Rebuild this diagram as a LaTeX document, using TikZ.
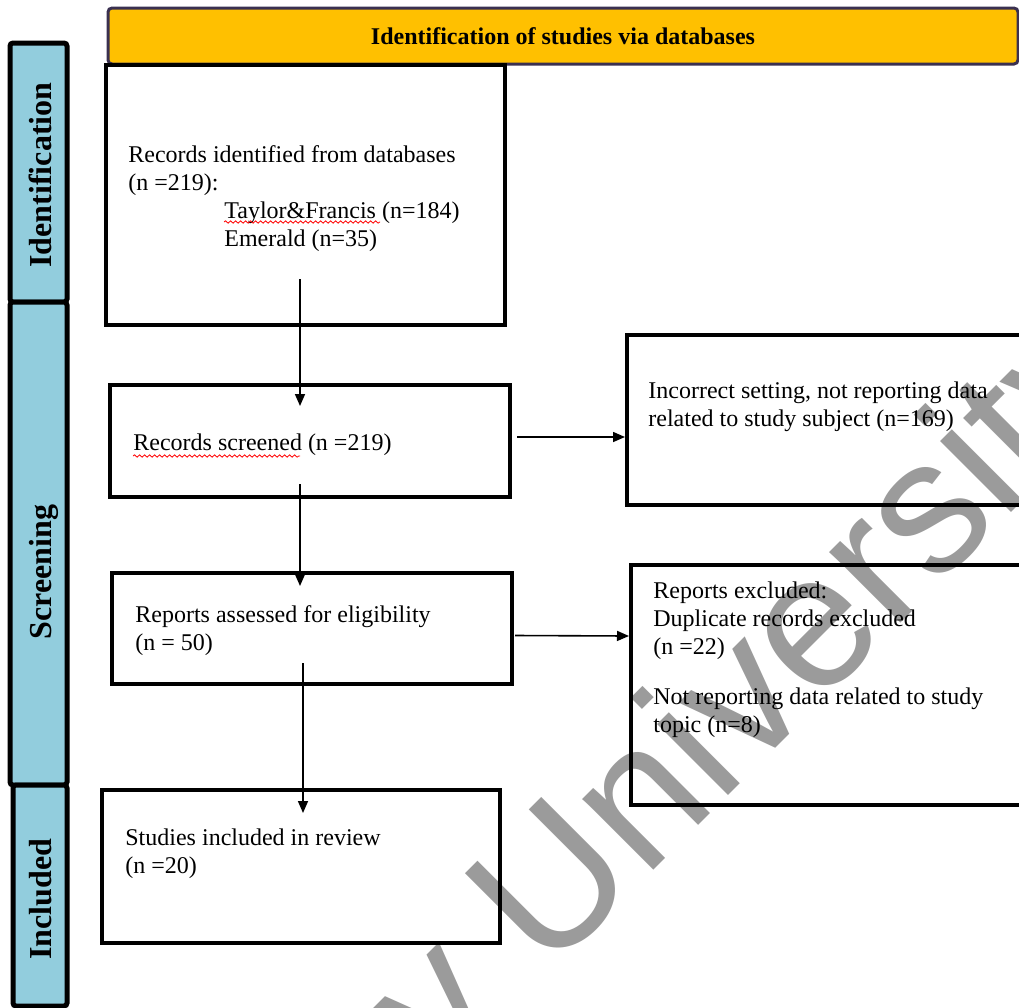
\documentclass[tikz,border=0pt]{standalone}
\usepackage{fontspec}
\setmainfont{Liberation Serif}
\newfontfamily\wmfont{Liberation Sans}
\usetikzlibrary{arrows.meta,fit,decorations.pathmorphing}
\definecolor{hdrorange}{RGB}{255,192,0}
\definecolor{hdrline}{RGB}{58,48,80}
\definecolor{stageblue}{RGB}{146,205,221}
\definecolor{wmgray}{RGB}{155,155,155}

\begin{document}
\begin{tikzpicture}[x=.5pt,y=-.5pt,
	box/.style={draw,line width=2pt,inner sep=0pt},
	stage/.style={draw,line width=2.5pt,fill=stageblue,rounded corners=1.5pt},
	stagetxt/.style={rotate=90,anchor=base,inner sep=0pt,font=\fontsize{16}{16}\selectfont\bfseries},
	txt/.style={anchor=north west,inner sep=0pt,align=left,font=\fontsize{12}{14}\selectfont},
	arr/.style={line width=.8pt,-{Triangle[length=6pt,width=5pt]}},
	spell/.style={red,line width=.4pt,decorate,decoration={snake,amplitude=.6pt,segment length=2.5pt}}]
\useasboundingbox (0,0) rectangle (1019,1008);

% watermark
\node[wmgray,rotate=45,anchor=base west,inner sep=0pt,font=\wmfont\fontsize{95}{95}\selectfont] (wm) at (443,1081) {y University};

% stages
\draw[stage] (10,43) rectangle (67,302);
\draw[stage] (10,302) rectangle (67,785);
\draw[stage] (13,785) rectangle (67,1006);
\node[stagetxt] (sid) at (52,175) {Identification};
\node[stagetxt] (sscr) at (52,572) {Screening};
\node[stagetxt] (sinc) at (52,899) {Included};

% header
\node[draw=hdrline,line width=1.5pt,fill=hdrorange,rounded corners=2pt,inner sep=0pt,
	fit={(108,8) (1018,64)}] (hdr) {};
\node[font=\fontsize{12}{14}\selectfont\bfseries,inner sep=0pt] (title) at (hdr.center) {Identification of studies via databases};

% boxes
\node[box,fit={(106,65) (505,325)}] (b1) {};
\node[box,fit={(110,385) (510,497)}] (b2) {};
\node[box,fit={(112,573) (512,684)}] (b3) {};
\node[box,fit={(102,790) (500,943)}] (b4) {};
\node[box,fit={(627,335) (1040,505)}] (bA) {};
\node[box,fit={(631,565) (1040,805)}] (bB) {};

\node[txt] (t1) at (128,145) {Records identified from databases\\(n =219):\\\hspace*{48pt}Taylor\&Francis (n=184)\\\hspace*{48pt}Emerald (n=35)};
\node[txt] (t2) at (133,433) {Records screened (n =219)};
\node[txt] (t3) at (135,605) {Reports assessed for eligibility\\(n = 50)};
\node[txt] (t4) at (125,828) {Studies included in review\\(n =20)};
\node[txt] (tA) at (648,381) {Incorrect setting, not reporting data\\related to study subject (n=169)};
\node[txt] (tB) at (653,581) {Reports excluded:\\Duplicate records excluded\\(n =22)\\[11pt]Not reporting data related to study\\topic (n=8)};

\draw[spell] (224,222) -- (380,222);
\draw[spell] (133,456) -- (300,456);

% arrows
\draw[arr] ([xshift=-2.75pt,yshift=24pt]b1.south) -- ([xshift=-5pt,yshift=-11.5pt]b2.north);
\draw[arr] ([xshift=-5pt,yshift=7.5pt]b2.south) -- ([xshift=-6pt,yshift=-7.5pt]b3.north);
\draw[arr] ([xshift=-4.5pt,yshift=11.5pt]b3.south) -- ([xshift=1pt,yshift=-12.5pt]b4.north);
\draw[arr] ([xshift=2.5pt,yshift=2pt]b2.east) -- ([yshift=-8.5pt]bA.west);
\draw[arr] ([xshift=.5pt,yshift=-3.5pt]b3.east) -- ([yshift=24.5pt]bB.west);
\end{tikzpicture}
\end{document}
